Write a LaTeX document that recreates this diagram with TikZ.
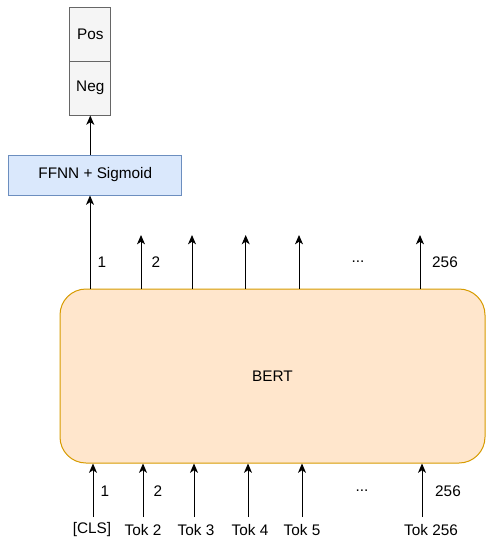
\documentclass[tikz,border=0pt]{standalone}
\usepackage{fontspec}
\setmainfont{Liberation Sans}
\usepackage{tikz}
\usetikzlibrary{arrows.meta}

\definecolor{cellfill}{HTML}{F5F5F5}
\definecolor{cellline}{HTML}{666666}
\definecolor{ffnnfill}{HTML}{DAE8FC}
\definecolor{ffnnline}{HTML}{6C8EBF}
\definecolor{bertfill}{HTML}{FFE6CC}
\definecolor{bertline}{HTML}{D79B00}

\tikzset{
  cellbox/.style={draw=cellline, fill=cellfill, line width=0.75, minimum width=30.5pt, minimum height=40.5pt, inner sep=0pt},
  arr/.style={-{Stealth[length=7pt,width=6pt,inset=2pt]}, line width=0.75},
  lbl/.style={inner sep=0.75pt}
}

\begin{document}
\begin{tikzpicture}[x=0.75pt,y=0.75pt,yscale=-1,xscale=1, every node/.style={font=\fontsize{11.5}{14}\selectfont}]
\useasboundingbox (0,0) rectangle (487,540);
\node (pos) at (90.3,34) [cellbox] {Pos};
\node (neg) at (90.3,88) [cellbox] {Neg};
\node (ffnn) at (95.3,175) [draw=ffnnline, fill=ffnnfill, line width=0.75, minimum width=130pt, minimum height=30pt, inner sep=0pt] {FFNN + Sigmoid\hspace{8pt}};
\node (bert) at (272.5,376) [draw=bertline, fill=bertfill, line width=0.75, rounded corners=19.5pt, minimum width=318.75pt, minimum height=130.5pt, inner sep=0pt] {BERT};
\draw [arr] (ffnn.north -| neg.south) -- (neg.south);
% outputs
\coordinate (o1) at (90,235);
\draw [arr] (bert.north -| o1) -- (ffnn.south -| o1);
\foreach \x/\n in {141/2,192/3,245.7/4,299/5,420/6} {
  \coordinate (o\n) at (\x,235);
  \draw [arr] (bert.north -| o\n) -- (o\n);
}
\node (ol1) at (102,262) [lbl] {1};
\node (ol2) at (156,262) [lbl] {2};
\node (oldots) at (358,262) [lbl] {...};
\node (ol6) at (445,262) [lbl] {256};
% inputs
\foreach \x/\tx/\n/\t in {93/92/1/{[CLS]},143/143/2/{Tok 2},194/196/3/{Tok 3},248/250/4/{Tok 4},302/302/5/{Tok 5},422/431/6/{Tok 256}} {
  \coordinate (i\n) at (\x,517);
  \node (tok\n) at (\tx,530) [lbl] {\t};
  \draw [arr] (i\n) -- (bert.south -| i\n);
}
\node (il1) at (105,491) [lbl] {1};
\node (il2) at (158,491) [lbl] {2};
\node (ildots) at (362,491) [lbl] {...};
\node (il6) at (448,491) [lbl] {256};
\end{tikzpicture}
\end{document}
